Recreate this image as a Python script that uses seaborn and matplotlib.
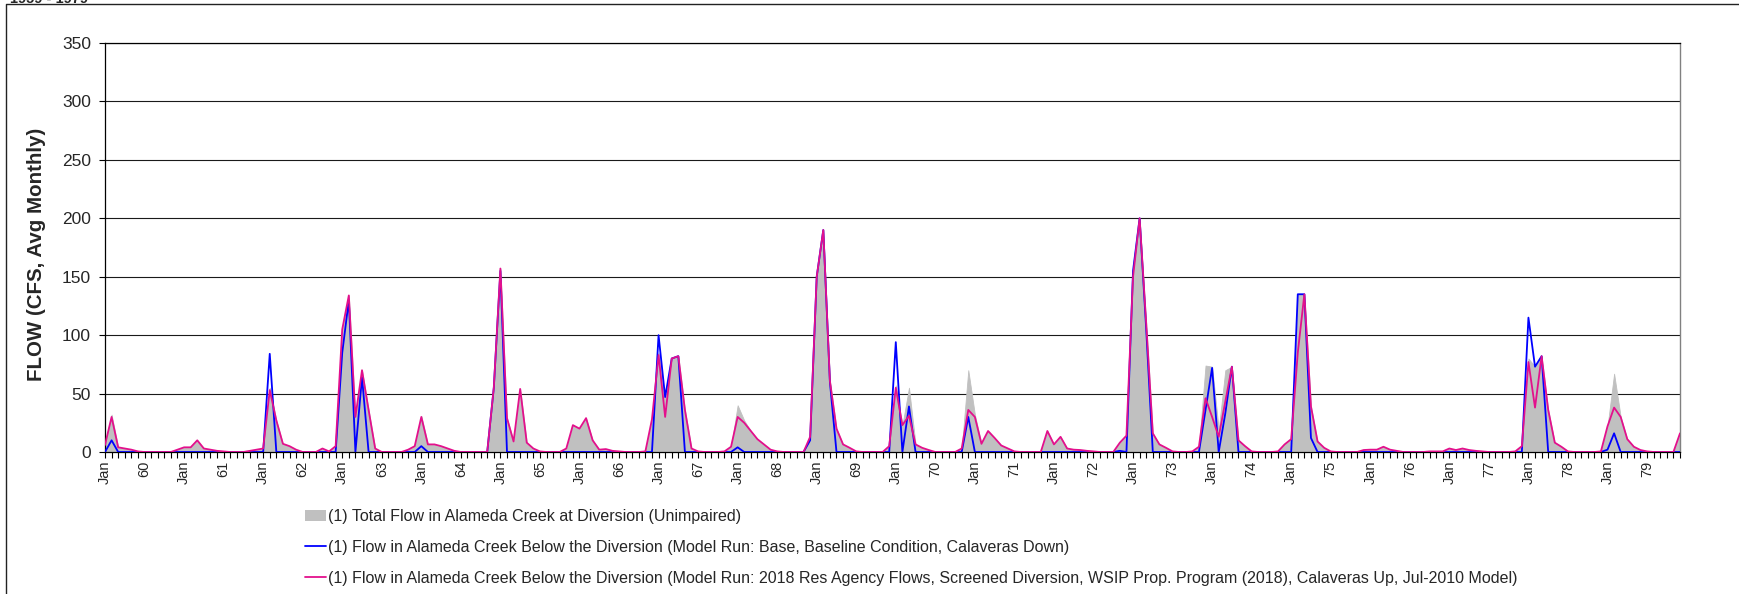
import numpy as np
import pandas as pd
import matplotlib
matplotlib.use("Agg")
import matplotlib.pyplot as plt
import seaborn as sns
from matplotlib.lines import Line2D
from matplotlib.patches import Patch

# Monthly average flow (cfs), January of the first year through December of the last
total_flow = [
    8, 32, 4, 3, 2, 0.5, 0, 0, 0, 0, 0, 2,
    4, 4, 10, 3, 2, 1, 0.5, 0, 0, 0, 1, 2,
    3, 55, 27, 7, 5, 2, 0, 0, 0, 3, 0.5, 5,
    105, 134, 30, 70, 36, 3, 0, 0, 0, 0, 2, 5,
    31, 6.5, 6.5, 5, 3, 1, 0, 0, 0, 0, 0, 55,
    157, 29, 9, 54, 8, 3, 0.5, 0, 0, 0, 3, 23,
    20, 29, 10, 2, 2.5, 1, 0.5, 0, 0, 0, 0.5, 28,
    85, 45, 80, 82, 36, 3, 0.5, 0, 0, 0, 0.5, 4.5,
    40, 27, 18, 11, 6.5, 2, 0.5, 0, 0, 0, 0, 13,
    150, 190, 61, 20, 6.5, 3.6, 0.5, 0, 0, 0, 0, 5,
    57, 23, 55, 6.5, 3.6, 1.7, 0, 0, 0, 0, 3, 70,
    32, 7, 18, 12, 5.6, 3, 0.5, 0, 0, 0, 0, 18,
    6.5, 13, 3, 2, 1.7, 1, 0.5, 0, 0, 0, 8, 14,
    160, 200, 110, 16, 6.5, 3.6, 0.5, 0, 0, 0.5, 4.5, 74,
    73, 19, 70, 73, 10, 5, 0.5, 0, 0, 0, 0.5, 6.5,
    11, 135, 135, 39, 9, 3.6, 0.5, 0, 0, 0, 0, 1.7,
    2, 2, 4.5, 2, 1, 0, 0, 0, 0, 0.5, 0.5, 0.5,
    3, 1.7, 3, 1.7, 1, 0.5, 0, 0, 0, 0, 0.5, 5,
    80, 73, 82, 36, 8, 4.5, 0.5, 0, 0, 0, 0, 0.5,
    22, 67, 30, 11, 4.5, 1.7, 0.5, 0, 0, 0, 0, 16,
]

base_flow = [
    0, 10, 0, 0, 0, 0, 0, 0, 0, 0, 0, 0,
    0, 0, 0, 0, 0, 0, 0, 0, 0, 0, 0, 0,
    0, 84, 0, 0, 0, 0, 0, 0, 0, 0, 0, 0,
    85, 130, 0, 64, 0, 0, 0, 0, 0, 0, 0, 0,
    5, 0, 0, 0, 0, 0, 0, 0, 0, 0, 0, 55,
    155, 0, 0, 0, 0, 0, 0, 0, 0, 0, 0, 0,
    0, 0, 0, 0, 0, 0, 0, 0, 0, 0, 0, 0,
    100, 47, 80, 82, 0, 0, 0, 0, 0, 0, 0, 0,
    4, 0, 0, 0, 0, 0, 0, 0, 0, 0, 0, 10,
    150, 190, 60, 0, 0, 0, 0, 0, 0, 0, 0, 0,
    94, 0, 39, 0, 0, 0, 0, 0, 0, 0, 0, 30,
    0, 0, 0, 0, 0, 0, 0, 0, 0, 0, 0, 0,
    0, 0, 0, 0, 0, 0, 0, 0, 0, 0, 1, 0,
    155, 200, 105, 0, 0, 0, 0, 0, 0, 0, 0, 36,
    72, 0, 33, 73, 0, 0, 0, 0, 0, 0, 0, 0,
    0, 135, 135, 12, 0, 0, 0, 0, 0, 0, 0, 0,
    0, 0, 0, 0, 0, 0, 0, 0, 0, 0, 0, 0,
    0, 0, 0, 0, 0, 0, 0, 0, 0, 0, 0, 0,
    115, 73, 82, 0, 0, 0, 0, 0, 0, 0, 0, 0,
    2, 16, 0, 0, 0, 0, 0, 0, 0, 0, 0, 0,
]

res_agency_flow = [
    6, 30, 4, 3, 2, 0.5, 0, 0, 0, 0, 0, 2,
    4, 4, 10, 3, 2, 1, 0.5, 0, 0, 0, 1, 2,
    3, 53, 27, 7, 5, 2, 0, 0, 0, 3, 0.5, 5,
    105, 134, 30, 70, 36, 3, 0, 0, 0, 0, 2, 5,
    30, 6.5, 6.5, 5, 3, 1, 0, 0, 0, 0, 0, 55,
    157, 29, 9, 54, 8, 3, 0.5, 0, 0, 0, 3, 23,
    20, 29, 10, 2, 2.5, 1, 0.5, 0, 0, 0, 0.5, 28,
    83, 30, 80, 82, 36, 3, 0.5, 0, 0, 0, 0.5, 4.5,
    30, 25, 18, 11, 6.5, 2, 0.5, 0, 0, 0, 0, 13,
    150, 190, 61, 20, 6.5, 3.6, 0.5, 0, 0, 0, 0, 5,
    55, 23, 31, 6.5, 3.6, 1.7, 0, 0, 0, 0, 3, 36,
    30, 7, 18, 12, 5.6, 3, 0.5, 0, 0, 0, 0, 18,
    6.5, 13, 3, 2, 1.7, 1, 0.5, 0, 0, 0, 8, 14,
    150, 200, 110, 16, 6.5, 3.6, 0.5, 0, 0, 0.5, 4.5, 46,
    30, 13, 43, 73, 10, 5, 0.5, 0, 0, 0, 0.5, 6.5,
    11, 85, 135, 39, 9, 3.6, 0.5, 0, 0, 0, 0, 1.7,
    2, 2, 4.5, 2, 1, 0, 0, 0, 0, 0.5, 0.5, 0.5,
    3, 1.7, 3, 1.7, 1, 0.5, 0, 0, 0, 0, 0.5, 5,
    77, 38, 82, 36, 8, 4.5, 0.5, 0, 0, 0, 0, 0.5,
    22, 38, 30, 11, 4.5, 1.7, 0.5, 0, 0, 0, 0, 16,
]

year_labels = [str(y) for y in range(60, 80)]

series_labels = [
    "(1) Total Flow in Alameda Creek at Diversion (Unimpaired)",
    "(1) Flow in Alameda Creek Below the Diversion (Model Run: Base, Baseline Condition, Calaveras Down)",
    "(1) Flow in Alameda Creek Below the Diversion (Model Run: 2018 Res Agency Flows, Screened Diversion, "
    "WSIP Prop. Program (2018), Calaveras Up, Jul-2010 Model)",
]

GRAY = "#C0C0C0"
BLUE = "#0000FF"
PINK = "#E3108C"

sns.set_theme(style="white")
plt.rcParams["font.family"] = ["Liberation Sans", "DejaVu Sans"]

W, H = 1739, 594
fig = plt.figure(figsize=(W / 100, H / 100), dpi=100)
ax = fig.add_axes([105 / W, 1 - 452 / H, (1680 - 105) / W, (452 - 43) / H])

n = len(total_flow)
df = pd.DataFrame({
    "month": np.arange(n),
    "total": total_flow,
    "base": base_flow,
    "res": res_agency_flow,
})

ax.fill_between(df["month"], df["total"], color=GRAY, lw=0.6, edgecolor=GRAY, zorder=2)
sns.lineplot(data=df, x="month", y="base", color=BLUE, lw=1.3, ax=ax, zorder=3)
sns.lineplot(data=df, x="month", y="res", color=PINK, lw=1.3, ax=ax, zorder=4)

ax.set_xlim(0, n - 1)
ax.set_ylim(0, 350)
ax.set_yticks(np.arange(0, 351, 50))
ax.yaxis.grid(True, color="#1a1a1a", lw=0.8, zorder=0)
ax.set_axisbelow(True)
ax.set_xlabel("")
ax.set_ylabel("")

# monthly ticks, labelled every January and mid-year with the year
xt = np.arange(n)
xl = []
for i in xt:
    if i % 12 == 0:
        xl.append("Jan")
    elif i % 12 == 6:
        xl.append(year_labels[i // 12])
    else:
        xl.append("")
ax.set_xticks(xt)
ax.set_xticklabels(xl, rotation=90, fontsize=10.5)
ax.tick_params(axis="x", direction="out", length=4, width=0.8, color="black", pad=2, bottom=True)
ax.tick_params(axis="y", direction="out", length=4, width=0.8, color="black", pad=6,
               labelsize=12.5, left=True)

for s in ("left", "bottom", "top"):
    ax.spines[s].set_color("black")
    ax.spines[s].set_linewidth(0.9)
ax.spines["right"].set_color("#808080")
ax.spines["right"].set_linewidth(1.0)

fig.text(37 / W, 1 - 254 / H, "FLOW (CFS, Avg Monthly)", rotation=90, ha="center", va="center",
         fontsize=14.8, fontweight="bold")

fig.text(10 / W, 1 - 3 / H, "1959 - 1979", ha="left", va="baseline", fontsize=10.5, fontweight="bold")

# chart-area frame
fig.add_artist(Line2D([5.5 / W, 5.5 / W, 1.0], [0.0, 1 - 4 / H, 1 - 4 / H],
                      transform=fig.transFigure, color="#222222", lw=1.0))

handles = [
    Patch(facecolor=GRAY, edgecolor="none"),
    Line2D([], [], color=BLUE, lw=1.3),
    Line2D([], [], color=PINK, lw=1.3),
]
fig.legend(handles, series_labels, loc="upper left", bbox_to_anchor=(305 / W, 1 - 509 / H),
           frameon=False, fontsize=11.5, handlelength=1.3, handleheight=0.7, handletextpad=0.15,
           labelspacing=1.0, borderpad=0, borderaxespad=0)

fig.savefig("out.png", dpi=100)
